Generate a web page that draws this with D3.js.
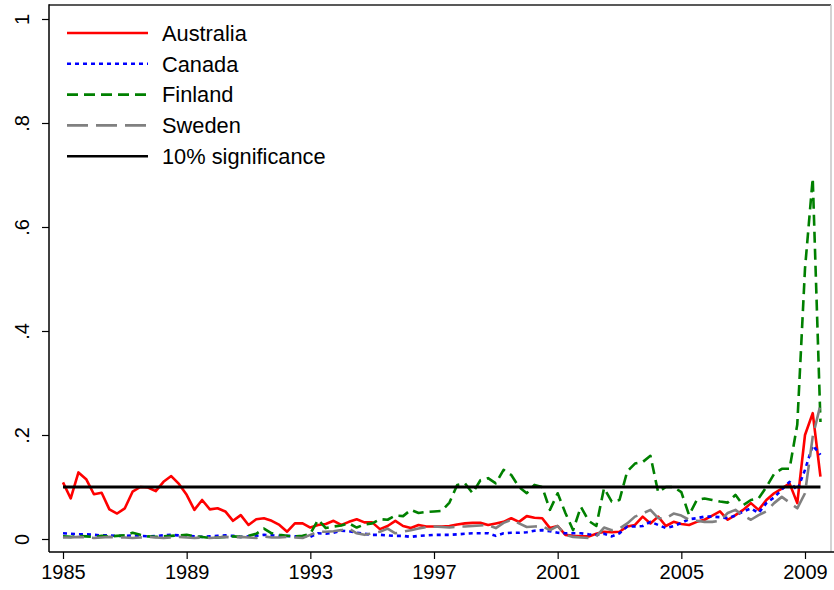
<!DOCTYPE html>
<html>
<head>
<meta charset="utf-8">
<script src="https://cdn.jsdelivr.net/npm/d3@7"></script>
<style>
  body { margin: 0; background: #fff; }
  svg { display: block; font-family: "Liberation Sans", Arial, sans-serif; }
</style>
</head>
<body>
<div id="chart"></div>
<script>
// quarterly series, 1985Q1 .. 2009Q3
const startYear = 1985;
const australia = [
  0.109, 0.078, 0.128, 0.115, 0.086, 0.089, 0.057, 0.049, 0.059, 0.091, 0.100, 0.099, 0.092, 0.110, 0.121, 0.106,
  0.085, 0.056, 0.075, 0.057, 0.059, 0.053, 0.035, 0.046, 0.027,
  0.038, 0.040, 0.035, 0.027, 0.014, 0.030, 0.030, 0.022, 0.027, 0.029, 0.035, 0.027, 0.033, 0.038, 0.032, 0.032,
  0.019, 0.025, 0.035, 0.025, 0.021, 0.027, 0.024,
  0.024, 0.024, 0.025, 0.028, 0.030, 0.031, 0.031, 0.027, 0.030, 0.033, 0.040, 0.033, 0.044, 0.041, 0.040, 0.021,
  0.025, 0.008, 0.006, 0.005, 0.005, 0.010, 0.014, 0.013,
  0.014, 0.024, 0.027, 0.043, 0.030, 0.043, 0.025, 0.033, 0.029, 0.027, 0.033, 0.037, 0.045, 0.053, 0.037, 0.046,
  0.056, 0.069, 0.056, 0.075, 0.088, 0.097, 0.107, 0.069, 0.200, 0.242, 0.120
];
const canada = [
  0.011, 0.010, 0.009, 0.009, 0.008, 0.007, 0.007, 0.006, 0.006, 0.007, 0.006, 0.005, 0.006, 0.007, 0.008, 0.007,
  0.006, 0.005, 0.004, 0.005, 0.006, 0.007, 0.006,
  0.004, 0.005, 0.006, 0.008, 0.007, 0.006, 0.006, 0.005, 0.005, 0.004, 0.011, 0.010, 0.012, 0.016, 0.015, 0.012,
  0.010, 0.008, 0.008, 0.007, 0.006, 0.006, 0.004, 0.006, 0.007,
  0.008, 0.008, 0.008, 0.009, 0.010, 0.011, 0.011, 0.011, 0.006, 0.011, 0.012, 0.012, 0.013, 0.016, 0.017, 0.015,
  0.012, 0.011, 0.011, 0.011, 0.009, 0.008, 0.010, 0.005,
  0.011, 0.024, 0.024, 0.025, 0.033, 0.027, 0.021, 0.025, 0.031, 0.038, 0.040, 0.043, 0.043, 0.042, 0.040, 0.045,
  0.053, 0.059, 0.050, 0.069, 0.080, 0.095, 0.110, 0.094, 0.133, 0.180, 0.162
];
const finland = [
  0.005, 0.004, 0.006, 0.005, 0.004, 0.006, 0.005, 0.006, 0.007, 0.012, 0.008, 0.005, 0.004, 0.005, 0.006, 0.007,
  0.008, 0.005, 0.004, 0.002, 0.003, 0.004, 0.005,
  0.004, 0.006, 0.010, 0.020, 0.011, 0.008, 0.006, 0.005, 0.006, 0.010, 0.037, 0.021, 0.024, 0.026, 0.030, 0.022,
  0.028, 0.030, 0.038, 0.037, 0.045, 0.044, 0.056, 0.050, 0.052,
  0.053, 0.054, 0.070, 0.104, 0.107, 0.088, 0.113, 0.117, 0.107, 0.133, 0.123, 0.100, 0.088, 0.104, 0.100, 0.056,
  0.088, 0.050, 0.017, 0.062, 0.035, 0.025, 0.098, 0.072,
  0.075, 0.130, 0.145, 0.148, 0.160, 0.090, 0.100, 0.100, 0.090, 0.046, 0.075, 0.078, 0.075, 0.072, 0.070, 0.085,
  0.065, 0.075, 0.078, 0.100, 0.125, 0.135, 0.135, 0.220, 0.520, 0.694, 0.225
];
const sweden = [
  0.003, 0.003, 0.004, 0.003, 0.002, 0.003, 0.004, 0.003, 0.003, 0.002, 0.003, 0.004, 0.003, 0.002, 0.003, 0.004,
  0.003, 0.002, 0.003, 0.002, 0.003, 0.004, 0.003,
  0.004, 0.003, 0.002, 0.005, 0.003, 0.003, 0.004, 0.003, 0.002, 0.008, 0.014, 0.014, 0.015, 0.017, 0.020, 0.011,
  0.008, 0.011, 0.014, 0.020, 0.011, 0.014, 0.017, 0.020, 0.023,
  0.024, 0.023, 0.022, 0.024, 0.024, 0.025, 0.026, 0.027, 0.021, 0.031, 0.037, 0.030, 0.023, 0.024, 0.025, 0.017,
  0.025, 0.008, 0.004, 0.003, 0.002, 0.005, 0.022, 0.017,
  0.020, 0.030, 0.043, 0.049, 0.056, 0.040, 0.040, 0.049, 0.045, 0.037, 0.035, 0.033, 0.033, 0.035, 0.050, 0.056,
  0.045, 0.037, 0.046, 0.053, 0.069, 0.081, 0.070, 0.059, 0.088, 0.197, 0.258
];
const significance = 0.1;
const xTicks = [1985, 1989, 1993, 1997, 2001, 2005, 2009];
const yTicks = [0, 0.2, 0.4, 0.6, 0.8, 1];
const yTickLabels = ["0", ".2", ".4", ".6", ".8", "1"];

const seriesList = [
  {name: "Australia", values: australia, color: "#ff0000", dash: null},
  {name: "Canada", values: canada, color: "#0000ff", dash: "4,4"},
  {name: "Finland", values: finland, color: "#008000", dash: "11,6"},
  {name: "Sweden", values: sweden, color: "#808080", dash: "21,8"}
];

const W = 834, H = 590;
const box = {left: 49, right: 831, top: 5, bottom: 552};

const svg = d3.select("#chart").append("svg")
  .attr("width", W).attr("height", H);

const x = d3.scaleLinear().domain([1985, 2009]).range([63, 805]);
const y = d3.scaleLinear().domain([0, 1]).range([539, 19]);

const quarter = i => startYear + i / 4;

// frame
svg.append("line")
  .attr("x1", box.left).attr("x2", box.right)
  .attr("y1", box.top).attr("y2", box.top)
  .attr("stroke", "#222").attr("stroke-width", 1.5);
svg.append("line")
  .attr("x1", box.right).attr("x2", box.right)
  .attr("y1", box.top).attr("y2", box.bottom)
  .attr("stroke", "#c4c4c4").attr("stroke-width", 1.5);

// axes
const xAxis = svg.append("g")
  .attr("transform", `translate(0,${box.bottom})`)
  .call(d3.axisBottom(x).tickValues(xTicks).tickFormat(d3.format("d")).tickSize(7).tickPadding(6));
xAxis.select(".domain").remove();
xAxis.selectAll(".tick line").attr("stroke", "#000").attr("stroke-width", 1.2);
xAxis.selectAll("text").attr("font-size", "20px").attr("fill", "#000")
  .attr("font-family", "Liberation Sans, Arial, sans-serif");

const yAxis = svg.append("g")
  .attr("transform", `translate(${box.left},0)`)
  .call(d3.axisLeft(y).tickValues(yTicks).tickFormat((d, i) => yTickLabels[i]).tickSize(7));
yAxis.select(".domain").remove();
yAxis.selectAll(".tick line").attr("stroke", "#000").attr("stroke-width", 1.2);
yAxis.selectAll("text")
  .attr("transform", "rotate(-90)")
  .attr("x", 0).attr("y", -20).attr("dy", null)
  .attr("text-anchor", "middle")
  .attr("font-size", "20px").attr("fill", "#000")
  .attr("font-family", "Liberation Sans, Arial, sans-serif");

svg.append("line")
  .attr("x1", box.left).attr("x2", W)
  .attr("y1", box.bottom).attr("y2", box.bottom)
  .attr("stroke", "#000").attr("stroke-width", 1.5);
svg.append("line")
  .attr("x1", box.left).attr("x2", box.left)
  .attr("y1", box.top - 0.75).attr("y2", box.bottom)
  .attr("stroke", "#000").attr("stroke-width", 1.5);

// series
const line = d3.line()
  .x((d, i) => x(quarter(i)))
  .y(d => y(d));

svg.selectAll(".series")
  .data(seriesList)
  .join("path")
    .attr("class", "series")
    .attr("d", d => line(d.values))
    .attr("fill", "none")
    .attr("stroke", d => d.color)
    .attr("stroke-width", 2.6)
    .attr("stroke-linejoin", "round")
    .attr("stroke-dasharray", d => d.dash);

const lastQ = quarter(australia.length - 1);
svg.append("line")
  .attr("x1", x(startYear)).attr("x2", x(lastQ))
  .attr("y1", y(significance)).attr("y2", y(significance))
  .attr("stroke", "#000").attr("stroke-width", 2.8);

// legend
const legendItems = seriesList.map(d => ({name: d.name, color: d.color, dash: d.dash}))
  .concat([{name: "10% significance", color: "#000", dash: null}]);

const legend = svg.append("g").attr("class", "legend");
legendItems.forEach((d, i) => {
  const ly = 33 + i * 30.8;
  legend.append("line")
    .attr("x1", 67).attr("x2", 148)
    .attr("y1", ly).attr("y2", ly)
    .attr("stroke", d.color).attr("stroke-width", 2.6)
    .attr("stroke-dasharray", d.dash);
  legend.append("text")
    .attr("x", 162).attr("y", ly + 7.8)
    .attr("font-size", "21.8px")
    .attr("fill", "#000")
    .text(d.name);
});
</script>
</body>
</html>
